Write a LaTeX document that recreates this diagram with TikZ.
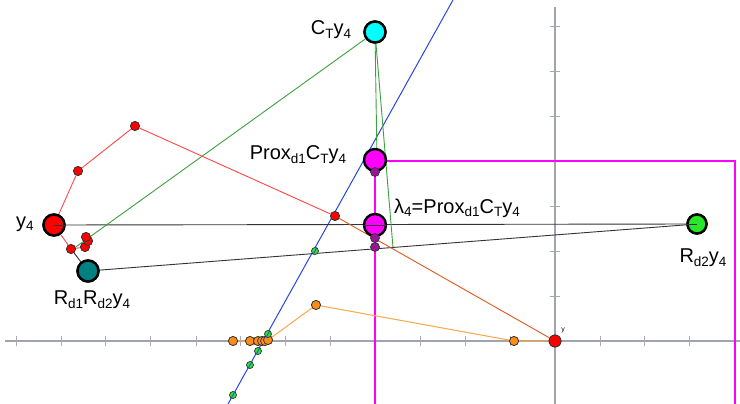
\documentclass[tikz,border=0pt]{standalone}
\usepackage{fontspec}
\setmainfont{Liberation Sans}
\usetikzlibrary{calc}
\definecolor{axisgray}{RGB}{160,164,174}
\definecolor{tickgray}{RGB}{165,170,182}
\definecolor{mag}{RGB}{255,0,255}
\definecolor{darkmag}{RGB}{150,20,150}
\definecolor{redl}{RGB}{255,70,70}
\definecolor{orred}{RGB}{222,88,30}
\definecolor{orl}{RGB}{255,165,70}
\definecolor{orpt}{RGB}{255,140,20}
\definecolor{greenl}{RGB}{60,160,60}
\definecolor{bluel}{RGB}{40,70,230}
\definecolor{tealc}{RGB}{0,128,128}
\definecolor{limec}{RGB}{40,230,40}
\definecolor{cyanc}{RGB}{0,255,255}
\newcommand{\sbs}[1]{\raisebox{-0.35ex}{\fontsize{13.5}{14}\selectfont #1}}
\tikzset{
  axisline/.style={line width=2.6pt, color=axisgray},
  tickline/.style={line width=0.8pt, color=tickgray},
  bigpt/.style={circle, draw=black, line width=2.4pt, inner sep=0pt, minimum size=#1},
  smallpt/.style={circle, draw=black!80, line width=0.7pt, inner sep=0pt, minimum size=#1},
  lbl/.style={font=\fontsize{20}{22}\selectfont, inner sep=0pt},
  thinblack/.style={line width=0.9pt, color=black!80},
}
\begin{document}
\begin{tikzpicture}[x=1pt,y=-1pt]
\useasboundingbox (0,0) rectangle (740,404);
% axes
\draw[axisline] (5,341) -- (740,341);
\draw[axisline] (555,7) -- (555,404);
\foreach \t in {16,61,105,150,196,240,285,330,375,420,465,510,600,644,689,734}
  \draw[tickline] (\t,336) -- (\t,346);
\foreach \t in {26,71,116,161,206,251,296}
  \draw[tickline] (550,\t) -- (560,\t);
% magenta region boundary
\draw[mag, line width=2.6pt] (375,404) -- (375,161) -- (735,161) -- (735,404);
% coordinates for free ends
\coordinate (bA) at (228,404);
\coordinate (bB) at (453,0);
\coordinate (gE) at (73,249);
\coordinate (gI) at (393,247.5);
\coordinate (gP) at (377,160);
% points
\node[bigpt=21pt, fill=red] (y4) at (54,225) {};
\node[bigpt=19pt, fill=limec] (Rd2) at (697,224) {};
\node[bigpt=21pt, fill=tealc] (RR) at (88,271) {};
\node[bigpt=21pt, fill=cyanc] (CT) at (375,32) {};
\node[smallpt=12pt, fill=red] (orig) at (555,341) {};
\foreach \n/\x/\y in {r1/335/216, r2/135/126, r3/78/171, r5/71/249, r6/85/247, r7/88/241, r8/86/237}
  \node[smallpt=9pt, fill=red] (\n) at (\x,\y) {};
\foreach \n/\x/\y in {o1/316/305, o2/514/341, o3/268/340, o4/265/341, o5/262/341, o6/258/341, o7/250/341, o8/233/341}
  \node[smallpt=9pt, fill=orpt] (\n) at (\x,\y) {};
% lines
\draw[bluel, line width=1pt] (bA) -- (bB);
\draw[thinblack] (y4.center) -- (Rd2.center);
\draw[thinblack] (RR.center) -- (Rd2.center);
\draw[thinblack] (r5) -- (RR.center);
\draw[greenl, line width=0.9pt] (CT) -- (gE);
\draw[greenl, line width=0.9pt] (CT) -- (gI);
\draw[greenl, line width=0.9pt] (CT) -- (gP);
\draw[redl, line width=0.9pt] (r1) -- (r2) -- (r3) -- (y4) -- (r5) -- (r6) -- (r7) -- (r8);
\draw[orred, line width=0.9pt] (orig) -- (r1);
\draw[orl, line width=1pt] (orig) -- (o2) -- (o1) -- (o3) -- (o4) -- (o5) -- (o6) -- (o7) -- (o8);
% magenta points
\node[bigpt=22pt, fill=mag] (Prox) at (375,160) {};
\node[bigpt=22pt, fill=mag] (lam) at (375,225) {};
\draw[darkmag, line width=2.4pt] (Prox) -- (lam);
\draw[mag, line width=1.4pt] (Prox) -- (lam);
\foreach \n/\y in {p1/172, p2/238, p3/247}
  \node[smallpt=9pt, fill=darkmag] (\n) at (375,\y) {};
% redraw points above lines
\node[bigpt=21pt, fill=red] at (y4) {};
\node[bigpt=19pt, fill=limec] at (Rd2) {};
\node[bigpt=21pt, fill=tealc] at (RR) {};
\node[bigpt=21pt, fill=cyanc] at (CT) {};
\node[smallpt=12pt, fill=red] at (orig) {};
\foreach \n in {r1,r2,r3,r5,r6,r7,r8}
  \node[smallpt=9pt, fill=red] at (\n) {};
\foreach \n in {o1,o2,o8,o7,o6,o5,o4,o3}
  \node[smallpt=9pt, fill=orpt] at (\n) {};
\foreach \n/\x/\y in {g1/268/334, g2/258/351, g3/250/365, g4/233/395, g5/315/251}
  \node[smallpt=7pt, fill=limec] (\n) at (\x,\y) {};
\foreach \n in {g1,g2,g3,g4,g5}
  \draw[bluel, line width=0.8pt] ($(\n)+(-2,3.6)$) -- ($(\n)+(2,-3.6)$);
\draw[thinblack] (y4.center) -- (y4.east);
\draw[thinblack] (Rd2.center) -- (Rd2.west);
\draw[thinblack] (lam.west) -- (lam.east);
% labels
\node[lbl] (Ly4) at (25,224) {y\sbs{4}};
\node[lbl] (LCT) at (331,30) {C\sbs{T}y\sbs{4}};
\node[lbl] (LProx) at (298,155) {Prox\sbs{d1}C\sbs{T}y\sbs{4}};
\node[lbl] (Llam) at (457,208) {λ\sbs{4}=Prox\sbs{d1}C\sbs{T}y\sbs{4}};
\node[lbl] (LRR) at (92,300) {R\sbs{d1}R\sbs{d2}y\sbs{4}};
\node[lbl] (LRd2) at (703,258) {R\sbs{d2}y\sbs{4}};
\node[font=\fontsize{7}{8}\selectfont, inner sep=0pt] (Ly) at (563,330) {y};
\end{tikzpicture}
\end{document}
